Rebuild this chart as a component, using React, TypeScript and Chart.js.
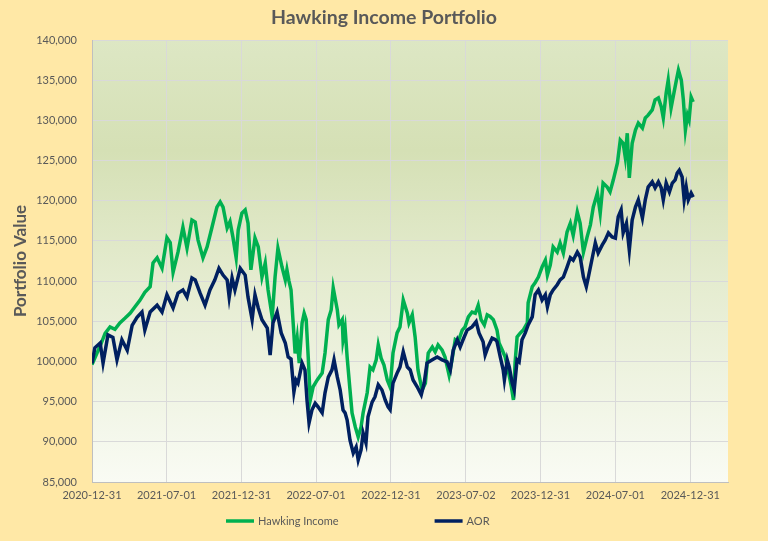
import React, { useEffect, useRef } from 'react';
import { Chart, registerables } from 'chart.js';

Chart.register(...registerables);

// Days since 2020-12-31
const tickDays = [0, 182, 365, 547, 730, 913, 1095, 1278, 1461];
const tickLabels = ['2020-12-31', '2021-07-01', '2021-12-31', '2022-07-01', '2022-12-31', '2023-07-02', '2023-12-31', '2024-07-01', '2024-12-31'];

const chartTitle = 'Hawking Income Portfolio';
const yAxisTitle = 'Portfolio Value';
const seriesNames = ['Hawking Income', 'AOR'];

const hawkingDays = [0, 12, 22, 32, 44, 56, 68, 81, 93, 105, 117, 129, 142, 149, 159, 171, 183, 191, 198, 210, 222, 232, 244, 252, 259, 271, 281, 293, 305, 313, 320, 330, 337, 344, 352, 357, 366, 374, 381, 388, 398, 406, 415, 423, 430, 440, 447, 454, 464, 472, 476, 481, 486, 496, 501, 506, 513, 518, 523, 528, 533, 540, 550, 562, 569, 577, 584, 589, 599, 603, 611, 613, 618, 623, 630, 635, 643, 650, 657, 662, 672, 679, 686, 694, 699, 706, 713, 721, 728, 735, 745, 752, 760, 770, 774, 782, 789, 796, 806, 814, 821, 831, 838, 845, 855, 862, 872, 879, 887, 894, 904, 911, 919, 928, 936, 943, 950, 958, 965, 972, 980, 989, 994, 1002, 1009, 1016, 1024, 1029, 1033, 1038, 1046, 1053, 1063, 1065, 1075, 1082, 1090, 1099, 1107, 1112, 1119, 1126, 1136, 1143, 1151, 1160, 1168, 1175, 1185, 1192, 1200, 1209, 1217, 1224, 1234, 1241, 1248, 1258, 1265, 1273, 1283, 1290, 1297, 1302, 1307, 1312, 1319, 1327, 1334, 1344, 1351, 1358, 1368, 1375, 1383, 1390, 1395, 1402, 1407, 1414, 1419, 1427, 1432, 1439, 1444, 1449, 1454, 1458, 1463, 1468];
const hawkingValues = [99600, 101000, 102200, 103500, 104300, 104000, 104800, 105400, 106000, 106800, 107600, 108600, 109300, 112250, 112900, 111600, 115400, 114800, 111100, 113600, 116700, 114100, 117600, 117350, 115100, 112900, 114250, 116700, 119200, 119850, 119200, 116600, 117400, 115500, 112900, 116350, 118450, 118850, 117200, 111400, 115350, 114250, 110500, 112250, 108900, 105550, 110500, 114100, 111750, 110150, 111400, 110000, 108900, 101000, 102900, 99800, 104800, 106000, 105200, 100550, 95200, 96850, 97700, 98550, 101050, 105200, 106400, 109150, 106400, 104550, 105200, 102700, 104150, 100550, 96450, 93600, 91850, 90600, 91850, 93600, 96100, 99300, 98950, 100200, 102050, 100400, 99550, 97700, 96800, 101050, 103550, 104300, 107650, 106000, 104800, 105800, 103050, 98950, 96450, 97300, 101050, 101800, 101200, 102050, 101400, 100550, 98300, 100200, 102700, 102450, 103900, 104300, 105550, 106150, 106000, 107000, 105200, 104550, 105800, 105600, 105200, 103900, 102300, 101400, 100550, 98950, 96850, 95200, 99800, 103050, 103550, 103900, 104800, 107300, 109300, 109800, 110500, 111750, 112600, 110750, 112000, 114250, 113600, 114750, 113500, 116100, 117200, 115700, 118600, 117200, 113600, 115500, 117000, 119200, 120950, 118450, 122200, 121700, 121100, 122600, 124700, 127550, 127150, 125450, 128400, 122850, 127150, 128800, 129650, 129050, 130300, 130650, 131300, 132550, 132800, 131700, 130300, 133400, 135000, 131550, 132900, 135000, 136250, 135000, 132550, 128800, 130650, 130050, 132900, 132300];

const aorDays = [0, 7, 20, 27, 39, 51, 61, 73, 86, 98, 110, 122, 129, 142, 159, 171, 183, 198, 210, 222, 232, 244, 252, 264, 276, 288, 300, 310, 320, 330, 335, 342, 349, 362, 374, 381, 391, 398, 406, 415, 428, 435, 442, 452, 462, 472, 479, 486, 493, 498, 503, 513, 520, 525, 530, 537, 545, 552, 562, 569, 577, 586, 591, 599, 606, 613, 618, 623, 630, 638, 645, 650, 657, 662, 669, 674, 684, 691, 699, 708, 716, 723, 728, 735, 745, 752, 760, 770, 777, 784, 794, 804, 811, 818, 831, 843, 855, 867, 875, 882, 892, 899, 906, 916, 928, 938, 945, 955, 960, 967, 977, 985, 989, 997, 1004, 1007, 1014, 1019, 1026, 1031, 1038, 1043, 1050, 1058, 1065, 1075, 1082, 1090, 1099, 1107, 1112, 1119, 1126, 1136, 1143, 1151, 1160, 1168, 1175, 1185, 1192, 1200, 1207, 1212, 1222, 1229, 1236, 1246, 1253, 1261, 1270, 1278, 1285, 1292, 1297, 1305, 1312, 1319, 1327, 1334, 1344, 1351, 1358, 1368, 1375, 1383, 1390, 1395, 1402, 1410, 1417, 1424, 1429, 1434, 1441, 1446, 1451, 1456, 1463, 1468];
const aorValues = [99750, 101700, 102300, 99800, 103300, 103000, 100200, 102700, 101400, 104500, 105500, 106150, 103900, 106150, 107000, 106150, 108300, 106650, 108500, 108900, 108000, 110400, 110150, 108500, 107000, 108900, 110150, 111600, 110750, 110150, 108000, 110400, 108900, 111600, 110750, 108000, 105200, 108300, 106650, 105200, 104150, 100800, 104800, 106150, 103550, 102300, 100550, 100300, 96200, 97700, 97300, 99800, 98950, 95200, 92350, 93950, 94800, 94350, 93600, 96100, 98050, 98950, 100200, 98050, 96450, 93950, 93600, 92700, 90200, 88600, 89350, 87750, 89000, 91100, 89850, 93100, 94950, 95600, 97100, 96450, 95200, 94350, 94000, 97300, 98550, 99300, 101200, 99300, 98950, 97700, 96850, 95850, 97300, 99800, 100200, 100550, 100200, 99950, 98950, 101400, 102700, 101800, 102700, 103900, 104300, 104950, 103550, 102450, 100800, 101800, 102900, 102700, 102450, 100550, 98950, 97700, 100200, 99300, 97300, 96450, 100200, 99950, 102700, 103550, 104550, 105550, 108300, 108900, 107650, 108300, 106800, 108300, 108900, 109550, 110150, 110500, 111750, 112900, 112600, 113600, 113000, 110500, 109300, 110500, 113000, 114750, 113500, 114500, 115100, 116000, 115500, 115350, 118000, 118850, 116000, 117200, 113850, 117600, 119200, 120100, 117850, 120100, 121700, 122350, 121600, 122350, 121600, 120100, 122200, 121100, 122200, 122600, 123450, 123800, 122950, 120100, 121700, 120100, 120950, 120450];

const yMin = 85000;
const yMax = 140000;
const yStep = 5000;
const xMax = 1553;

const TEXT = '#595959';
const FONT = 'Lato, "Open Sans", sans-serif';
const COLORS = ['#00B050', '#002060'];

const bgPlugin = {
  id: 'bgPlugin',
  beforeDraw(chart: any) {
    const { ctx, chartArea: a, width, height } = chart;
    ctx.save();
    ctx.fillStyle = '#FFE8A6';
    ctx.fillRect(0, 0, width, height);
    const g = ctx.createLinearGradient(0, a.top, 0, a.bottom);
    g.addColorStop(0, '#dde7c4');
    g.addColorStop(0.25, '#d5e0b5');
    g.addColorStop(0.55, '#e5ecd0');
    g.addColorStop(1, '#f9fbf4');
    ctx.fillStyle = g;
    ctx.fillRect(a.left, a.top, a.right - a.left, a.bottom - a.top);
    ctx.restore();
  },
};

const titleLegendPlugin = {
  id: 'titleLegend',
  afterDraw(chart: any) {
    const { ctx, width } = chart;
    ctx.save();
    // Title, centred on the whole canvas
    ctx.font = `bold 19.5px ${FONT}`;
    ctx.fillStyle = TEXT;
    ctx.textAlign = 'center';
    ctx.textBaseline = 'middle';
    ctx.fillText(chartTitle, width / 2, 18);

    // Legend
    const y = 521;
    let x = 226;
    ctx.font = `11px ${FONT}`;
    ctx.textAlign = 'left';
    chart.data.datasets.forEach((ds: any) => {
      ctx.strokeStyle = ds.borderColor;
      ctx.lineWidth = 3.5;
      ctx.beginPath();
      ctx.moveTo(x, y);
      ctx.lineTo(x + 28, y);
      ctx.stroke();
      ctx.fillStyle = TEXT;
      ctx.fillText(ds.label, x + 32, y);
      const w = ctx.measureText(ds.label).width;
      x += 32 + w + 96;
    });
    ctx.restore();
  },
};

export default function App() {
  const ref = useRef<HTMLCanvasElement | null>(null);

  useEffect(() => {
    document.body.style.margin = '0';
    if (!ref.current) return;
    const chart = new Chart(ref.current, {
      type: 'line',
      data: {
        datasets: [
          {
            label: seriesNames[0],
            data: hawkingDays.map((d, i) => ({ x: d, y: hawkingValues[i] })),
            borderColor: COLORS[0],
            backgroundColor: COLORS[0],
            borderWidth: 3.5,
            pointRadius: 0,
            tension: 0,
            order: 1,
          },
          {
            label: seriesNames[1],
            data: aorDays.map((d, i) => ({ x: d, y: aorValues[i] })),
            borderColor: COLORS[1],
            backgroundColor: COLORS[1],
            borderWidth: 3.5,
            pointRadius: 0,
            tension: 0,
            order: 0,
          },
        ],
      },
      options: {
        animation: false,
        responsive: true,
        maintainAspectRatio: false,
        layout: { padding: { left: 0, right: 40, top: 40, bottom: 29 } },
        plugins: {
          legend: { display: false },
          tooltip: { enabled: false },
          title: { display: false },
        },
        scales: {
          x: {
            type: 'linear',
            min: 0,
            max: xMax,
            afterFit(scale: any) {
              scale.height = 30;
            },
            afterBuildTicks(scale: any) {
              scale.ticks = tickDays.map((v) => ({ value: v }));
            },
            ticks: {
              color: TEXT,
              font: { family: FONT, size: 11 },
              padding: 7,
              maxRotation: 0,
              autoSkip: false,
              callback: (v: any) => {
                const idx = tickDays.indexOf(Number(v));
                return idx >= 0 ? tickLabels[idx] : '';
              },
            },
            grid: { color: '#d9d9d9', drawTicks: false },
            border: { color: '#bfbfbf', width: 1 },
          },
          y: {
            min: yMin,
            max: yMax,
            afterFit(scale: any) {
              scale.width = 92;
            },
            ticks: {
              stepSize: yStep,
              color: TEXT,
              font: { family: FONT, size: 11 },
              padding: 15,
              callback: (v: any) => Number(v).toLocaleString('en-US'),
            },
            grid: { color: '#d9d9d9', drawTicks: false },
            border: { color: '#bfbfbf', width: 1 },
            title: {
              display: true,
              text: yAxisTitle,
              color: TEXT,
              font: { family: FONT, size: 17, weight: 'bold' },
              padding: { top: 10, bottom: 0 },
            },
          },
        },
      },
      plugins: [bgPlugin, titleLegendPlugin],
    });
    return () => chart.destroy();
  }, []);

  return (
    <div style={{ width: 768, height: 541, position: 'relative' }}>
      <canvas ref={ref} />
    </div>
  );
}
